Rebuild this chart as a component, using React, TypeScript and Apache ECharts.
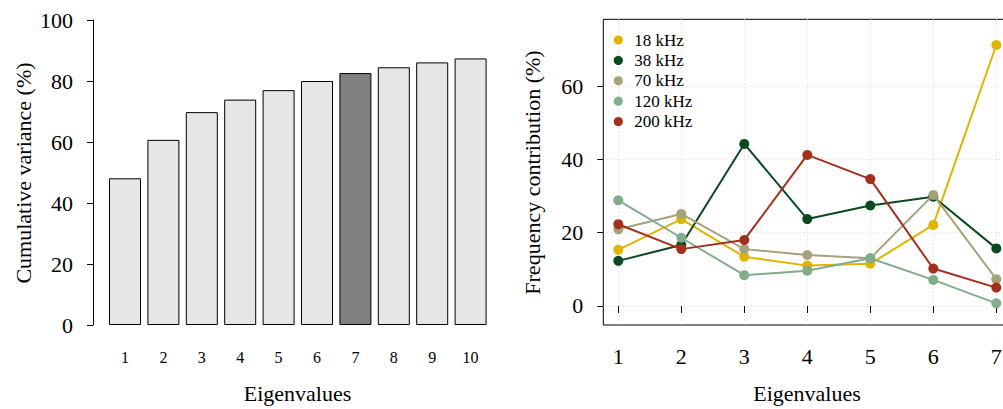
import React, { useEffect, useRef } from "react";
import * as echarts from "echarts";

const eigenCats = ["1", "2", "3", "4", "5", "6", "7", "8", "9", "10"];
const cumulativeVariance = [48.1, 60.7, 69.8, 73.9, 77.0, 80.0, 82.6, 84.5, 86.1, 87.4];
const selectedEigen = 7;
const leftYTicks = [0, 20, 40, 60, 80, 100];

const eigenX = [1, 2, 3, 4, 5, 6, 7];
const freq18 = [15.3, 23.7, 13.4, 11.0, 11.5, 22.1, 71.2];
const freq38 = [12.3, 16.6, 44.2, 23.7, 27.4, 29.8, 15.7];
const freq70 = [20.9, 25.1, 15.5, 13.9, 13.0, 30.3, 7.3];
const freq120 = [28.8, 18.6, 8.4, 9.6, 13.0, 7.1, 0.7];
const freq200 = [22.3, 15.5, 18.0, 41.2, 34.6, 10.2, 5.0];
const freqNames = ["18 kHz", "38 kHz", "70 kHz", "120 kHz", "200 kHz"];
const freqColors = ["#E0B400", "#0B4A20", "#A5A37B", "#82AD8D", "#A3301C"];
const rightYTicks = [0, 20, 40, 60];

const FONT = "Liberation Serif";

export default function App() {
  const ref = useRef<HTMLDivElement>(null);
  useEffect(() => {
    if (!ref.current) return;
    document.body.style.margin = "0";
    document.body.style.overflow = "hidden";
    document.documentElement.style.overflow = "hidden";
    const chart = echarts.init(ref.current, undefined, { renderer: "svg" });
    const freqData = [freq18, freq38, freq70, freq120, freq200];

    const legendItems: any[] = [];
    freqNames.forEach((name, k) => {
      const cy = 40 + k * 20.4;
      legendItems.push({
        type: "circle",
        shape: { cx: 618.3, cy, r: 4.6 },
        style: { fill: freqColors[k] },
        z: 20,
      });
      legendItems.push({
        type: "text",
        x: 634.3,
        y: cy,
        style: {
          text: name,
          fontSize: 17,
          fontFamily: FONT,
          fill: "#000",
          textAlign: "left",
          textVerticalAlign: "middle",
        },
        z: 20,
      });
    });

    const option: any = {
      animation: false,
      backgroundColor: "#fff",
      textStyle: { fontFamily: FONT, color: "#000" },
      grid: [
        { left: 105.8, top: 20, width: 384, height: 305, show: false },
        {
          left: 603.3,
          top: 19.3,
          width: 408,
          height: 305.7,
          show: true,
          borderColor: "#000",
          borderWidth: 1,
          backgroundColor: "transparent",
        },
      ],
      xAxis: [
        {
          gridIndex: 0,
          type: "category",
          data: eigenCats,
          axisLine: { show: false },
          axisTick: { show: false },
          axisLabel: { fontSize: 16, color: "#000", fontFamily: FONT, margin: 24 },
        },
        {
          gridIndex: 1,
          type: "value",
          min: 0.762,
          max: 7.238,
          axisLine: { show: false },
          axisTick: {
            show: true,
            length: 7,
            customValues: eigenX,
            lineStyle: { color: "#000", width: 1 },
          },
          axisLabel: {
            fontSize: 22,
            color: "#000",
            fontFamily: FONT,
            margin: 20,
            customValues: eigenX,
          },
          splitLine: {
            show: true,
            lineStyle: { color: "#D9D9D9", type: [1, 3], width: 1 },
          },
        },
      ],
      yAxis: [
        {
          gridIndex: 0,
          type: "value",
          min: 0,
          max: 100,
          interval: 20,
          offset: 12.8,
          axisLine: { show: true, lineStyle: { color: "#000", width: 1 } },
          axisTick: { show: true, length: 6, lineStyle: { color: "#000", width: 1 } },
          axisLabel: {
            fontSize: 22,
            color: "#000",
            fontFamily: FONT,
            margin: 20,
            customValues: leftYTicks,
          },
          splitLine: { show: false },
        },
        {
          gridIndex: 1,
          type: "value",
          min: -5.2,
          max: 78.2,
          axisLine: { show: false },
          axisTick: {
            show: true,
            length: 6,
            customValues: rightYTicks,
            lineStyle: { color: "#000", width: 1 },
          },
          axisLabel: {
            fontSize: 22,
            color: "#000",
            fontFamily: FONT,
            margin: 20,
            customValues: rightYTicks,
          },
          splitLine: {
            show: true,
            lineStyle: { color: "#D9D9D9", type: [1, 3], width: 1 },
          },
        },
      ],
      series: [
        {
          type: "bar",
          xAxisIndex: 0,
          yAxisIndex: 0,
          barWidth: 32,
          data: cumulativeVariance.map((v, i) => ({
            value: v,
            itemStyle: {
              color: i + 1 === selectedEigen ? "#7F7F7F" : "#E6E6E6",
            },
          })),
          itemStyle: { borderColor: "#000", borderWidth: 1 },
        },
        ...freqNames.map((name, k) => ({
          type: "line",
          name,
          xAxisIndex: 1,
          yAxisIndex: 1,
          data: eigenX.map((x, i) => [x, freqData[k][i]]),
          symbol: "circle",
          symbolSize: 10,
          showSymbol: true,
          lineStyle: { color: freqColors[k], width: 2 },
          itemStyle: { color: freqColors[k] },
          z: 3 + k,
        })),
      ],
      graphic: [
        ...legendItems,
        {
          type: "text",
          x: 23,
          y: 173,
          rotation: Math.PI / 2,
          style: {
            text: "Cumulative variance (%)",
            fontSize: 22,
            fontFamily: FONT,
            fill: "#000",
            textAlign: "center",
            textVerticalAlign: "middle",
          },
        },
        {
          type: "text",
          x: 297.5,
          y: 393,
          style: {
            text: "Eigenvalues",
            fontSize: 22,
            fontFamily: FONT,
            fill: "#000",
            textAlign: "center",
            textVerticalAlign: "middle",
          },
        },
        {
          type: "text",
          x: 532,
          y: 172.5,
          rotation: Math.PI / 2,
          style: {
            text: "Frequency contribution (%)",
            fontSize: 22,
            fontFamily: FONT,
            fill: "#000",
            textAlign: "center",
            textVerticalAlign: "middle",
          },
        },
        {
          type: "text",
          x: 807,
          y: 393,
          style: {
            text: "Eigenvalues",
            fontSize: 22,
            fontFamily: FONT,
            fill: "#000",
            textAlign: "center",
            textVerticalAlign: "middle",
          },
        },
      ],
    };
    chart.setOption(option);
    return () => chart.dispose();
  }, []);
  return (
    <div
      ref={ref}
      style={{ position: "fixed", left: 0, top: 0, width: 1024, height: 409 }}
    />
  );
}
